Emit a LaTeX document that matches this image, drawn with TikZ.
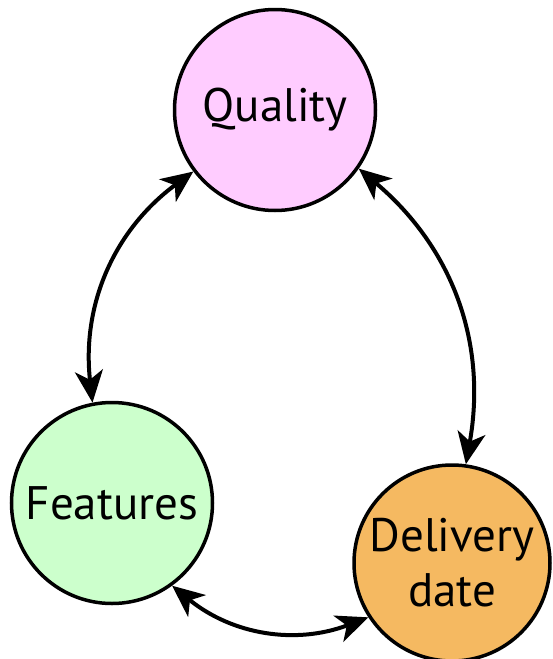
\documentclass[tikz,border=0pt]{standalone}
\usepackage{fontspec}
\setmainfont{PT Sans}
\usepackage{xcolor}
\usetikzlibrary{arrows.meta,positioning}
\definecolor{qualpink}{HTML}{FFCCFF}
\definecolor{featgreen}{HTML}{CCFFCC}
\definecolor{delorange}{HTML}{F5B961}
\begin{document}
\begin{tikzpicture}[x=1pt,y=1pt,>={Stealth[length=32pt,width=28pt,inset=9pt]},
  goal/.style={circle,draw=black,line width=3.5pt,minimum size=201pt,inner sep=0pt,align=center,font=\fontsize{47}{55}\selectfont},
  link/.style={line width=4pt,<->}]
\useasboundingbox (0,0) rectangle (552,-659);
\node[goal,fill=qualpink] (quality) at (275,-110) {Quality};
\node[goal,fill=featgreen] (features) at (112,-503) {Features};
\node[goal,fill=delorange,minimum size=196pt] (delivery) at (452,-563) {Delivery\\date};
\draw[link] (quality.217) to[bend right=30] (features.101);
\draw[link] (quality.325) to[bend left=30] (delivery.82);
\draw[link] (features.306) to[bend right=30] (delivery.213);
\end{tikzpicture}
\end{document}
